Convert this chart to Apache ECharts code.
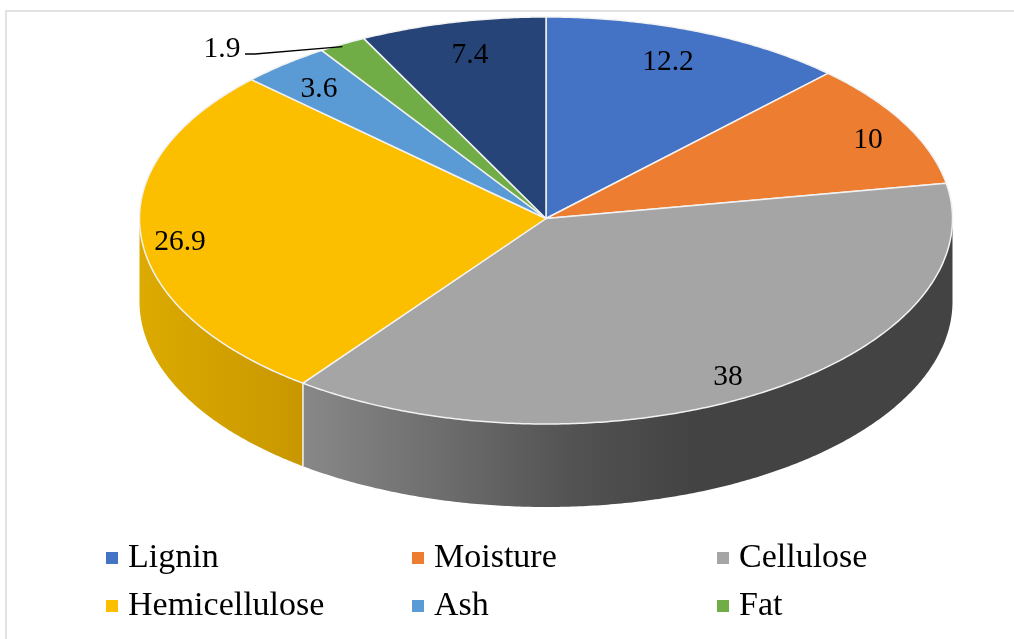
<!DOCTYPE html>
<html>
<head>
<meta charset="utf-8">
<style>
  html, body { margin: 0; padding: 0; background: #fff; }
  #chart { width: 1014px; height: 639px; }
</style>
<script src="https://cdn.jsdelivr.net/npm/echarts@6/dist/echarts.min.js"></script>
</head>
<body>
<div id="chart"></div>
<script>
// Composition of the biomass, percent by weight
const categories = ['Lignin', 'Moisture', 'Cellulose', 'Hemicellulose', 'Ash', 'Fat', 'Other'];
const values = [12.2, 10, 38, 26.9, 3.6, 1.9, 7.4];
const colors = ['#4472C4', '#EC7D31', '#A5A5A5', '#FCBF00', '#5B9BD5', '#70AD47', '#264478'];
const legendColumns = [['Lignin', 'Hemicellulose'], ['Moisture', 'Ash'], ['Cellulose', 'Fat']];

// Tilted disc geometry, in pixels
const disc = { cx: 546, cy: 218.5, rx: 406.5, ryBack: 201.5, ryFront: 205.5, depth: 83 };
const serif = '"Liberation Serif", "Times New Roman", serif';

// Value label centres, relative to the disc centre
const labelOffsets = [[122, -158], [322, -80], [182, 157], [-366, 22], [-227, -131], [-324, -171], [-76, -165]];
const labelBaselineShift = 1.5;

// Front wall shading, left to right across each visible piece
const wallFills = {
  Cellulose: [[0, '#888888'], [0.2, '#6f6f6f'], [0.42, '#525252'], [0.6, '#434343'], [1, '#434343']],
  Hemicellulose: [[0, '#dcaa00'], [1, '#c89700']]
};

const total = values.reduce((a, b) => a + b, 0);

// Point on the disc rim; the angle runs clockwise from twelve o'clock, in degrees
function rim(deg, drop) {
  const t = deg * Math.PI / 180;
  const c = Math.cos(t);
  const ry = c >= 0 ? disc.ryBack : disc.ryFront;
  return [disc.cx + disc.rx * Math.sin(t), disc.cy - ry * c + (drop || 0)];
}

function arc(from, to, drop) {
  const pts = [];
  const n = Math.max(2, Math.ceil(Math.abs(to - from) * 2));
  for (let i = 0; i <= n; i++) pts.push(rim(from + (to - from) * i / n, drop));
  return pts;
}

function sliceRange(index) {
  let before = 0;
  for (let i = 0; i < index; i++) before += values[i];
  return [before / total * 360, (before + values[index]) / total * 360];
}

function renderSlice(index) {
  return function () {
    const [start, end] = sliceRange(index);
    const children = [];

    // The wall is visible only along the front half of the rim
    const wallFrom = Math.max(start, 90);
    const wallTo = Math.min(end, 270);
    if (wallTo > wallFrom) {
      const top = arc(wallFrom, wallTo, 0);
      const bottom = arc(wallTo, wallFrom, disc.depth);
      children.push({
        type: 'polygon',
        shape: { points: top.concat(bottom) },
        style: {
          fill: new echarts.graphic.LinearGradient(0, 0, 1, 0,
            wallFills[categories[index]].map(s => ({ offset: s[0], color: s[1] }))),
          stroke: null
        }
      });
      // Seam with the previous wall piece, drawn on top of both
      if (start > 90) {
        const a = rim(start, 0), b = rim(start, disc.depth);
        children.push({
          type: 'line',
          shape: { x1: a[0], y1: a[1], x2: b[0], y2: b[1] },
          style: { stroke: '#f4f4f4', lineWidth: 1.5 }
        });
      }
    }

    // Top face of the slice
    children.push({
      type: 'polygon',
      shape: { points: [[disc.cx, disc.cy]].concat(arc(start, end, 0)) },
      style: { fill: colors[index], stroke: '#f2f2f2', lineWidth: 1.5, lineJoin: 'round' }
    });

    return { type: 'group', children: children };
  };
}

// Value labels sit above every slice, so they are a separate series drawn last
function renderLabels() {
  const children = values.map((v, i) => ({
    type: 'text',
    style: {
      text: String(v),
      x: disc.cx + labelOffsets[i][0],
      y: disc.cy + labelOffsets[i][1] + labelBaselineShift,
      align: 'center',
      verticalAlign: 'middle',
      font: '29.5px ' + serif,
      fill: '#000'
    }
  }));
  // Leader from the smallest slice's label to its slice
  const fat = categories.indexOf('Fat');
  const lx = disc.cx + labelOffsets[fat][0], ly = disc.cy + labelOffsets[fat][1];
  const [s, e] = sliceRange(fat);
  const tip = rim((s + e) / 2, 2.5);
  children.push({
    type: 'polyline',
    shape: { points: [[lx + 23, ly + 6.5], [lx + 33, ly + 6.5], tip] },
    style: { stroke: '#000', lineWidth: 1.3, fill: null }
  });
  return { type: 'group', children: children };
}

const sliceSeries = categories.map((name, i) => ({
  type: 'custom',
  name: name,
  coordinateSystem: 'none',
  data: [[values[i]]],
  itemStyle: { color: colors[i] },
  renderItem: renderSlice(i),
  silent: true
}));

const labelSeries = {
  type: 'custom',
  name: 'values',
  coordinateSystem: 'none',
  data: [[0]],
  z: 5,
  renderItem: renderLabels,
  silent: true
};

const legendLeft = [106, 412, 717];

const chart = echarts.init(document.getElementById('chart'), null, { renderer: 'canvas' });
chart.setOption({
  animation: false,
  backgroundColor: '#fff',
  legend: legendColumns.map((column, i) => ({
    data: column,
    orient: 'vertical',
    left: legendLeft[i],
    top: 541,
    padding: 0,
    itemWidth: 12,
    itemHeight: 12,
    itemGap: 14,
    icon: 'rect',
    selectedMode: false,
    textStyle: { fontFamily: serif, fontSize: 34, color: '#000', padding: [0, 0, 0, 5] }
  })),
  graphic: [
    { type: 'rect', silent: true, shape: { x: 5, y: 10, width: 1009, height: 2 }, style: { fill: '#e2e2e2' } },
    { type: 'rect', silent: true, shape: { x: 5, y: 10, width: 2, height: 629 }, style: { fill: '#e2e2e2' } }
  ],
  series: sliceSeries.concat([labelSeries])
});
</script>
</body>
</html>
